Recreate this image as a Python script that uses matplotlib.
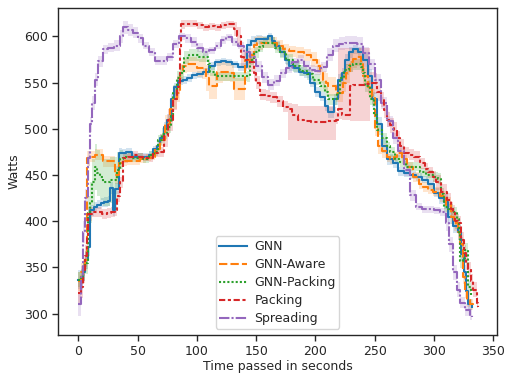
import matplotlib
matplotlib.use("Agg")
import matplotlib.pyplot as plt
import numpy as np

# (time, watts, ci half-width) or (time, watts, ci below, ci above)
gnn = [(0,337,10),(2,337,10),(4,345,10),(6,358,10),(8,372,10),(10,412,6),(13,416,5),(16,418,5),(19,420,5),
       (22,421,5),(25,422,5),(27,436,6),(29,412,6),(31,435,6),(34,474,5),(37,474,4),(40,475,4),(45,470,4),
       (50,470,4),(55,470,4),(60,472,4),(63,478,4),(66,482,4),(69,490,5),(72,502,5),(75,510,6),(78,532,6),
       (81,545,5),(84,552,4),(88,553,4),(92,555,4),(96,558,4),(100,559,4),(105,562,4),(110,568,4),(115,572,4),
       (120,573,4),(125,572,4),(130,570,4),(135,567,4),(138,567,4),(142,591,6),(146,595,5),(150,597,5),
       (155,597,4),(160,600,4),(163,595,4),(166,590,5),(170,583,5),(174,575,5),(178,568,5),(182,566,5),
       (186,562,5),(190,560,5),(195,550,5),(200,540,5),(204,535,5),(208,525,6),(211,518,6),(213,518,6),
       (216,532,6),(219,553,6),(222,560,6),(225,575,6),(228,583,6),(232,586,5),(236,583,6),(240,575,8),
       (244,557,8),(248,532,8),(252,505,8),(256,482,8),(260,467,6),(265,463,5),(270,454,5),(275,452,4),
       (280,450,4),(285,448,4),(290,445,4),(295,440,5),(300,431,5),(304,425,6),(308,421,8),(312,405,8),
       (316,395,8),(320,388,8),(323,365,8),(325,345,8),(327,325,8),(329,310,6),(332,307,5)]

gnn_aware = [(0,335,10),(2,345,10),(4,351,10),(6,358,10),(7,468,8),(10,470,6),(14,472,6),(18,472,6),
             (21,465,6),(25,465,6),(28,465,6),(31,450,10),(34,463,6),(37,465,5),(41,465,4),(46,465,4),
             (52,467,4),(57,469,4),(61,470,4),(65,478,5),(69,488,6),(73,505,10),(77,521,10),(80,532,10),
             (83,539,10),(86,560,10),(88,568,8),(92,570,8),(96,570,8),(100,566,10),(104,566,12),(108,555,14),
             (110,546,14),(113,546,14),(117,562,12),(122,562,10),(128,561,10),(131,543,12),(134,543,12),
             (137,543,12),(141,575,10),(145,580,8),(148,591,8),(151,593,8),(156,593,6),(162,593,6),
             (168,590,6),(173,586,6),(178,584,6),(184,583,6),(190,580,6),(196,575,8),(201,568,8),(204,560,10),
             (206,553,10),(209,550,10),(211,546,10),(214,546,10),(217,539,10),(220,539,10),(223,550,10),
             (226,560,10),(229,572,10),(232,576,10),(235,578,10),(238,570,10),(240,557,10),(244,545,8),
             (248,535,8),(250,500,8),(253,481,8),(256,476,8),(260,470,6),(263,467,5),(266,470,5),(269,474,5),
             (273,467,5),(277,459,5),(282,448,5),(287,440,5),(291,437,5),(295,434,5),(299,432,5),(305,427,6),
             (310,418,8),(314,405,8),(317,398,8),(320,388,8),(322,375,8),(324,340,8),(326,325,8),(328,315,8),
             (330,310,6),(333,307,5)]

gnn_packing = [(0,337,8),(2,340,8),(4,345,10),(6,355,12),(8,409,18),(10,420,22),(12,442,25),(14,459,25),
               (16,452,25),(18,448,25),(21,442,25),(24,442,25),(27,445,25),(30,445,25),(33,455,20),
               (35,467,10),(38,470,5),(41,470,4),(45,468,4),(50,470,4),(55,467,4),(60,472,4),(64,475,4),
               (67,488,5),(71,495,6),(75,502,6),(78,515,8),(80,539,8),(83,555,8),(86,561,8),(89,577,7),
               (93,580,6),(97,580,6),(102,578,6),(107,578,6),(109,570,6),(111,562,5),(115,557,5),(120,557,5),
               (125,557,5),(131,557,5),(136,557,5),(142,557,6),(145,575,6),(148,583,6),(152,589,6),
               (156,593,6),(162,593,6),(166,588,6),(170,583,6),(175,575,6),(181,568,6),(187,563,6),
               (193,559,6),(198,553,6),(204,546,6),(208,540,6),(211,532,6),(214,532,6),(218,539,6),
               (221,555,6),(224,564,6),(228,568,6),(232,570,6),(238,567,6),(240,560,6),(242,546,6),
               (246,532,6),(249,515,6),(252,499,6),(256,490,6),(260,481,5),(263,475,5),(267,467,5),
               (271,464,5),(276,459,5),(282,459,5),(288,453,5),(293,450,5),(299,448,5),(303,446,6),
               (306,430,6),(308,416,6),(312,413,6),(316,410,6),(319,402,6),(321,385,8),(322,357,8),
               (324,358,8),(326,369,8),(328,369,8),(329,329,6),(331,320,6)]

packing = [(0,322,12),(2,329,12),(4,345,12),(6,362,12),(7,385,12),(8,408,8),(12,410,5),(16,410,5),
           (20,408,5),(24,409,5),(28,410,5),(31,412,6),(33,427,6),(35,442,6),(38,468,5),(42,470,4),
           (46,472,4),(50,470,4),(55,469,4),(60,468,4),(63,474,4),(67,475,5),(72,492,12),(76,510,12),
           (80,532,12),(83,545,12),(85,550,12),(86,586,10),(87,613,5),(90,614,4),(94,614,4),(100,612,4),
           (105,610,4),(110,611,4),(115,610,4),(120,612,4),(125,613,4),(131,608,8),(134,600,10),
           (137,578,10),(140,575,8),(143,572,8),(146,572,10),(148,560,8),(150,550,7),(153,537,6),
           (158,536,6),(162,534,6),(168,530,6),(173,524,6),(177,521,33,7),(180,515,27,12),
           (185,510,22,15),(190,508,20,17),(196,507,19,18),(200,507,19,18),(205,507,19,18),
           (210,508,20,17),(215,509,21,15),(217,510,5,8),(219,521,10,67),(222,515,5,73),
           (227,515,5,73),(229,546,37,42),(232,548,40,40),(238,548,40,40),(242,549,40,38),
           (246,550,15,12),(249,550,12,10),(252,540,10,8),(255,532,8),(258,520,8),(260,510,8),
           (263,504,8),(266,499,8),(269,490,8),(271,481,8),(275,474,6),(279,472,6),(283,470,6),
           (288,463,6),(292,457,6),(295,453,6),(299,448,6),(302,442,8),(306,432,8),(311,423,8),
           (314,413,8),(316,410,8),(318,400,8),(320,398,8),(323,380,8),(325,366,8),(327,355,8),
           (329,348,8),(331,335,8),(333,326,8),(336,312,6),(337,307,5)]

spreading = [(0,310,12),(2,340,12),(4,388,12),(6,425,10),(8,468,8),(10,505,8),(12,528,8),(14,553,7),
             (17,573,6),(21,586,5),(25,588,5),(30,590,6),(35,600,7),(38,610,7),(42,607,7),(46,604,6),
             (50,598,5),(55,590,4),(60,583,4),(65,574,5),(70,574,5),(75,578,4),(80,592,4),(85,600,4),
             (90,598,5),(95,594,5),(100,588,5),(105,583,4),(110,585,4),(115,590,4),(120,596,4),(125,599,4),
             (130,594,4),(135,590,4),(140,583,5),(145,578,6),(150,568,6),(155,556,6),(160,548,6),
             (165,552,6),(170,560,5),(175,566,5),(180,572,5),(185,575,5),(190,568,5),(195,564,5),
             (200,563,5),(205,567,5),(210,580,7),(215,590,7),(220,592,7),(225,593,7),(230,593,7),
             (235,592,7),(240,582,7),(245,570,6),(250,553,6),(255,528,6),(260,508,6),(265,490,6),
             (270,476,6),(275,455,6),(280,428,6),(285,416,4),(290,413,4),(295,413,4),(300,412,4),
             (305,410,4),(310,398,8),(313,375,8),(316,345,8),(319,326,8),(322,312,6),(326,304,6),
             (330,299,6),(332,296,5)]

series_names = ["GNN", "GNN-Aware", "GNN-Packing", "Packing", "Spreading"]
series_data = [gnn, gnn_aware, gnn_packing, packing, spreading]
colors = ["#1f77b4", "#ff7f0e", "#2ca02c", "#d62728", "#9467bd"]
dashes = [None, (4, 1.5), (1, 1), (3, 1.25, 1.5, 1.25), (5, 1, 1, 1)]

plt.rcParams['font.family'] = ['DejaVu Sans']
plt.rcParams['font.size'] = 9

fig = plt.figure(figsize=(5.05, 3.73), dpi=100)
ax = fig.add_axes([0.115, 0.102, 0.869, 0.877])

dark = "#262626"
for name, data, c, d in zip(series_names, series_data, colors, dashes):
    t = np.array([p[0] for p in data], float)
    w = np.array([p[1] for p in data], float)
    lo = np.array([p[2] for p in data], float)
    hi = np.array([p[3] if len(p) > 3 else p[2] for p in data], float)
    ax.fill_between(t, w - lo, w + hi, step="post", color=c, alpha=0.2, lw=0)
    line, = ax.plot(t, w, drawstyle="steps-post", color=c, lw=1.5, label=name)
    if d is not None:
        line.set_dashes(d)

ax.set_xlim(-17, 353)
ax.set_ylim(277, 631)
ax.set_xticks([0, 50, 100, 150, 200, 250, 300, 350])
ax.set_yticks([300, 350, 400, 450, 500, 550, 600])
ax.set_xlabel("Time passed in seconds", fontsize=9, color=dark, labelpad=2)
ax.set_ylabel("Watts", fontsize=9, color=dark, labelpad=3)
ax.tick_params(axis="both", colors=dark, labelsize=9, length=4, width=1, direction="out", pad=3)
for s in ax.spines.values():
    s.set_color(dark)
    s.set_linewidth(1)

leg = ax.legend(loc="lower center", fontsize=9, frameon=True, handlelength=2.2,
                borderpad=0.3, labelspacing=0.4, borderaxespad=0.5, handletextpad=0.6)
leg.get_frame().set_edgecolor("#cccccc")
for txt in leg.get_texts():
    txt.set_color(dark)

fig.savefig("out.png", dpi=100)
